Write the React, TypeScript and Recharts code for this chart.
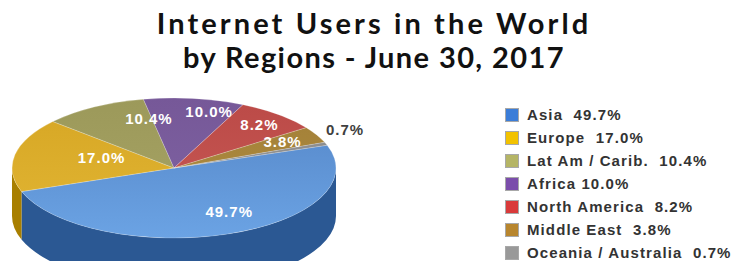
import React from 'react';
import { PieChart, Pie, Legend } from 'recharts';

const regions = [
  'Asia',
  'Europe',
  'Lat Am / Carib.',
  'Africa',
  'North America',
  'Middle East',
  'Oceania / Australia',
];
const shares = [49.7, 17.0, 10.4, 10.0, 8.2, 3.8, 0.7];
const sliceLabels = ['49.7%', '17.0%', '10.4%', '10.0%', '8.2%', '3.8%', '0.7%'];
const legendLabels = [
  'Asia  49.7%',
  'Europe  17.0%',
  'Lat Am / Carib.  10.4%',
  'Africa 10.0%',
  'North America  8.2%',
  'Middle East  3.8%',
  'Oceania / Australia  0.7%',
];

// face colours (top dark -> top light), side walls, legend swatches
const topDark = ['#5485c6', '#d6a624', '#9c995a', '#765898', '#bb4a47', '#a27f36', '#888888'];
const topLight = ['#6ba3e4', '#e2b634', '#a8a566', '#8064a4', '#c95a56', '#b08e44', '#999999'];
const sideColors = ['#2b5893', '#a87f00', '#7b783e', '#573d78', '#8f302e', '#7d5d1e', '#666666'];
const legendColors = ['#3b7dd8', '#f2c200', '#b5b565', '#7b4dab', '#d93a3a', '#b8862e', '#999999'];

const data = regions.map((name, i) => ({ name, value: shares[i] }));

const TILT = 0.432;
const DEPTH = 48;
const RAD = Math.PI / 180;

// draws the tilted slice (top face + visible side wall)
const renderFace = (props: any) => {
  const { cx, cy, outerRadius, startAngle, endAngle, index } = props;
  const rx = outerRadius;
  const ry = outerRadius * TILT;
  const pt = (a: number, dy = 0) =>
    `${cx + rx * Math.cos(a * RAD)},${cy - ry * Math.sin(a * RAD) + dy}`;

  const s = Math.max(startAngle, endAngle);
  const e = Math.min(startAngle, endAngle);
  const large = s - e > 180 ? 1 : 0;
  const top = `M${cx},${cy} L${pt(s)} A${rx},${ry} 0 ${large} 1 ${pt(e)} Z`;

  // visible side wall = part of the slice on the front (lower) half
  const walls: string[] = [];
  for (let k = -2; k <= 1; k++) {
    const lo = Math.max(e, -180 + 360 * k);
    const hi = Math.min(s, 360 * k);
    if (hi - lo > 0.01) {
      walls.push(
        `M${pt(hi)} A${rx},${ry} 0 0 1 ${pt(lo)} L${pt(lo, DEPTH)} A${rx},${ry} 0 0 0 ${pt(hi, DEPTH)} Z`
      );
    }
  }

  return (
    <g key={`face-${index}`}>
      <defs>
        <linearGradient id={`top-${index}`} x1="0" y1={cy - ry} x2="0" y2={cy + ry} gradientUnits="userSpaceOnUse">
          <stop offset="0%" stopColor={topDark[index]} />
          <stop offset="100%" stopColor={topLight[index]} />
        </linearGradient>
      </defs>
      {walls.map((d, i) => (
        <path key={i} d={d} fill={sideColors[index]} />
      ))}
      <path d={top} fill={`url(#top-${index})`} stroke="rgba(255,255,255,0.35)" strokeWidth={0.6} />
    </g>
  );
};

// percentage text, drawn by a second pie so it sits above every face
const renderText = (props: any) => {
  const { cx, cy, outerRadius, midAngle, index, percent } = props;
  const rx = outerRadius;
  const ry = outerRadius * TILT;
  const sin = Math.sin(midAngle * RAD);
  const cos = Math.cos(midAngle * RAD);
  const small = percent < 0.02;
  let lx = cx + 23 + 0.6 * rx * cos;
  let ly = cy - (sin > 0 ? 0.81 : 0.66) * ry * sin;
  if (small) {
    lx = cx + rx * cos;
    ly = cy - ry * sin - 14;
  }
  return (
    <text
      key={`txt-${index}`}
      x={lx}
      y={ly}
      textAnchor={small ? 'start' : 'middle'}
      dominantBaseline="central"
      fill={small ? '#404040' : '#ffffff'}
      fontFamily="'Liberation Sans', Arial, sans-serif"
      fontWeight="bold"
      fontSize={15}
      letterSpacing={1}
    >
      {sliceLabels[index]}
    </text>
  );
};

const renderLegend = () => (
  <div>
    {legendLabels.map((label, i) => (
      <div key={`leg-${i}`} style={{ display: 'flex', alignItems: 'center', height: 23 }}>
        <span
          style={{
            width: 12,
            height: 12,
            background: legendColors[i],
            border: '1px solid #a8a8a8',
            marginRight: 8,
            flexShrink: 0,
          }}
        />
        <span
          style={{
            fontFamily: "'Liberation Sans', Arial, sans-serif",
            fontWeight: 'bold',
            fontSize: 15,
            lineHeight: '16px',
            letterSpacing: 1.1,
            color: '#333333',
            whiteSpace: 'pre',
          }}
        >
          {label}
        </span>
      </div>
    ))}
  </div>
);

const titleStyle: React.CSSProperties = {
  position: 'absolute',
  left: 0,
  width: 748,
  textAlign: 'center',
  fontFamily: 'Lato, sans-serif',
  fontWeight: 'bold',
  fontSize: 29,
  lineHeight: '34px',
  color: '#111',
  whiteSpace: 'nowrap',
};

export default function App() {
  return (
    <div style={{ position: 'absolute', left: 0, top: 0, width: 737, height: 261, background: '#fff', overflow: 'hidden' }}>
      <div style={{ ...titleStyle, top: 6, letterSpacing: 3.1 }}>Internet Users in the World</div>
      <div style={{ ...titleStyle, top: 40, letterSpacing: 1.4 }}>by Regions - June 30, 2017</div>
      <PieChart width={737} height={261} margin={{ top: 0, right: 0, bottom: 0, left: 0 }}>
        <Pie
          data={data}
          dataKey="value"
          nameKey="name"
          cx={174}
          cy={168}
          outerRadius={162}
          startAngle={19}
          endAngle={-341}
          fill="transparent"
          stroke="none"
          label={renderFace}
          labelLine={false}
          isAnimationActive={false}
        />
        <Pie
          data={data}
          dataKey="value"
          nameKey="name"
          cx={174}
          cy={168}
          outerRadius={162}
          startAngle={19}
          endAngle={-341}
          fill="transparent"
          stroke="none"
          legendType="none"
          label={renderText}
          labelLine={false}
          isAnimationActive={false}
        />
        <Legend
          layout="vertical"
          align="right"
          verticalAlign="top"
          content={renderLegend}
          wrapperStyle={{ left: 505, top: 103, width: 240 }}
        />
      </PieChart>
    </div>
  );
}
